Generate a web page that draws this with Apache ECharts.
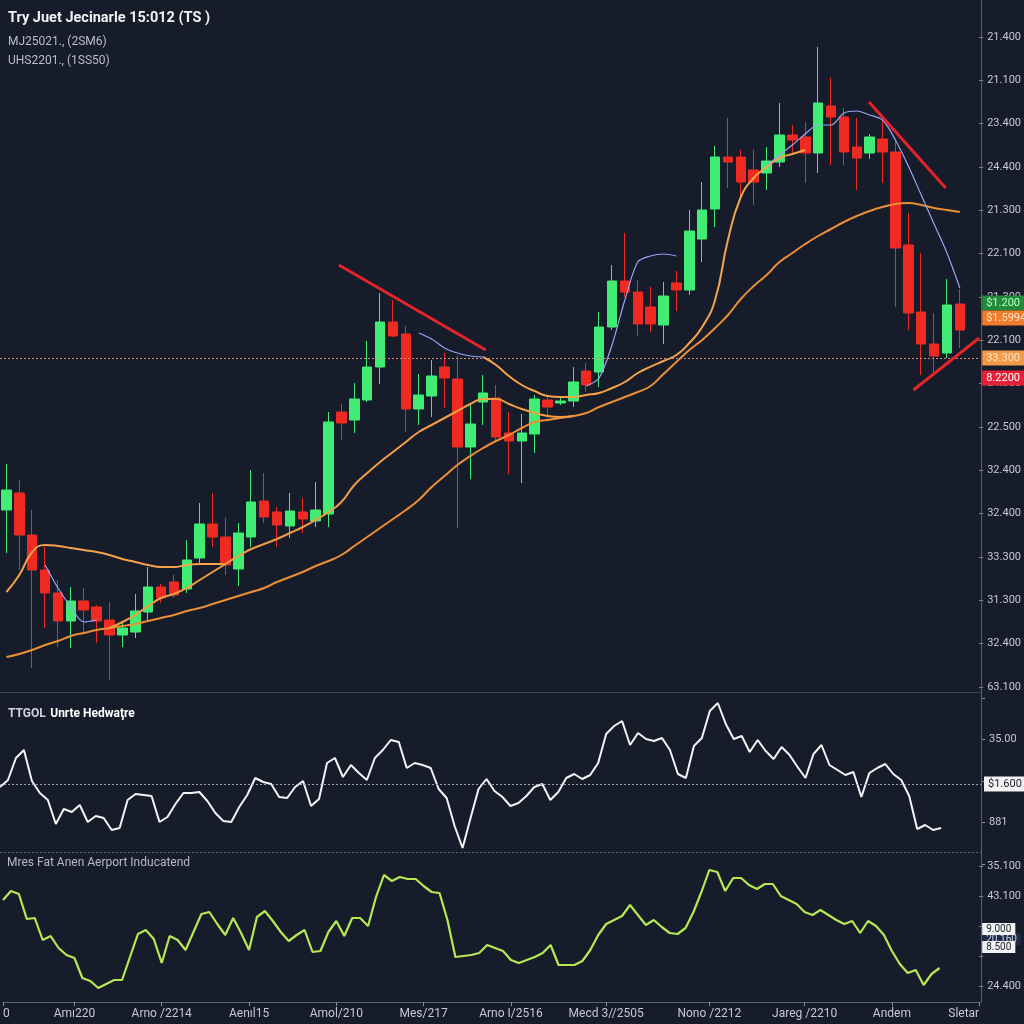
<!DOCTYPE html>
<html><head><meta charset="utf-8">
<script src="https://cdn.jsdelivr.net/npm/echarts@6/dist/echarts.min.js"></script>
<style>html,body{margin:0;padding:0;background:#161c2a;}#c{width:1024px;height:1024px;}</style>
</head><body><div id="c"></div>
<script>
// ---------- DATA ----------
const titleText = 'Try Juet Jecinarle 15:012 (TS )';
const subText = 'MJ25021., (2SM6)\nUHS2201., (1SS50)';
const panel2Title = ['TTGOL', 'Unrte Hedwaţre'];
const panel3Title = 'Mres Fat Anen Aerport Inducatend';

// main price axis tick labels, top to bottom
const mainTicks = ["21.400","21.100","23.400","24.400","21.300","22.100","21.300","22.100","24.300","22.500","32.400","32.400","33.300","31.300","32.400","63.100"];
const panel2Ticks = ['', '881', '', '35.00', ''];          // bottom to top
const panel3Ticks = ['24.400', '', '', '43.100', '35.100']; // bottom to top

// bottom time axis labels
const timeLabelIdx = [0, 9, 20, 31, 42, 53, 64, 76, 89, 101, 112, 123];
const timeLabels = ["0","Amı220","Arno /2214","Aenıl15","Amol/210","Mes/217","Arno I/2516","Mecd 3//2505","Nono /2212","Jareg /2210","Andem","Sletar"];

// candles: [open, close, low, high]
const candles = [
[1531,1591,1402,1669],[1582,1456,1351,1621],[1456,1351,1057,1531],[1351,1282,1177,1420],[1282,1198,1120,1321],
[1198,1258,1117,1300],[1258,1231,1162,1297],[1240,1198,1132,1246],[1201,1156,1021,1255],[1156,1177,1120,1192],
[1165,1228,1147,1279],[1225,1300,1201,1360],[1300,1267,1252,1309],[1315,1276,1267,1336],[1294,1381,1282,1441],
[1387,1489,1372,1552],[1489,1450,1420,1582],[1450,1366,1336,1507],[1354,1462,1303,1492],[1450,1555,1420,1651],
[1558,1510,1492,1642],[1525,1486,1420,1540],[1483,1528,1447,1582],[1525,1504,1462,1567],[1498,1531,1480,1615],
[1519,1795,1480,1825],[1825,1792,1741,1849],[1801,1864,1762,1912],[1861,1960,1855,2038],[1960,2095,1909,2182],
[2095,2053,2050,2161],[2059,1834,1765,2083],[1834,1876,1786,1939],[1873,1933,1810,1981],[1960,1927,1837,2002],
[1924,1720,1477,1993],[1720,1789,1624,1849],[1855,1882,1786,1936],[1867,1750,1741,1906],[1762,1738,1639,1825],
[1738,1762,1612,1819],[1759,1864,1702,1876],[1861,1840,1807,1873],[1852,1858,1846,1867],[1858,1915,1840,1960],
[1948,1906,1885,1972],[1945,2080,1900,2125],[2080,2218,2071,2266],[2218,2185,2170,2362],[2185,2089,2053,2221],
[2140,2089,2065,2200],[2086,2173,2029,2215],[2212,2191,2128,2248],[2191,2368,2176,2431],[2344,2431,2275,2515],
[2434,2590,2380,2623],[2590,2575,2497,2707],[2590,2515,2461,2611],[2551,2515,2446,2611],[2542,2578,2491,2620],
[2575,2656,2560,2752],[2656,2641,2602,2686],[2650,2602,2512,2695],[2602,2752,2542,2920],[2743,2710,2566,2827],
[2710,2605,2566,2737],[2620,2587,2491,2707],[2602,2650,2584,2659],[2644,2605,2512,2701],[2605,2317,2140,2641],
[2326,2122,2071,2422],[2125,2029,1936,2302],[2029,1993,1945,2122],[2002,2146,1987,2224],[2149,2071,2017,2194]
];
const candleDays = candles.map((_, i) => 'D' + (i + 1)).concat(['D76']);

const maSlow = [1090,1099,1111,1126,1138,1153,1162,1171,1177,1183,
1189,1198,1207,1216,1228,1237,1249,1261,1273,1285,
1297,1315,1330,1345,1363,1378,1396,1423,1450,1477,
1504,1531,1561,1600,1633,1666,1693,1717,1738,1756,
1777,1795,1801,1807,1813,1822,1840,1855,1870,1885,
1903,1939,1975,2011,2041,2077,2116,2164,2203,2236,
2275,2302,2329,2353,2374,2395,2413,2428,2440,2449,
2452,2446,2437,2431,2425];

const maTrend = [null,null,null,null,null,null,null,null,
1177,1195,1216,1243,1267,1279,1297,1321,1345,1369,1393,1414,1429,1444,1462,1480,1501,1525,1555,1606,
1642,1675,1705,1735,1765,1786,1807,1828,1849,1864,1864,1849,1834,1822,1813,1810,1813,
null,null,null,null,null,null,null,null,null,null,null,null,null,null,null,
null,null,null,null,null,null,null,null,null,null,null,null,null,null,null];

const maMid = [1285,1336,1405,1426,1423,1417,1411,1405,1396,1384,1375,1366,1360,1360,1366,1369,1369,1369,
null,null,null,null,null,null,null,null,null,null,null,null,null,null,null,null,null,null,null,
1990,1966,1933,1906,1888,1873,1870,1870,1876,1882,1897,1915,1942,1961,1978,1996,2032,2080,2161,2341,2470,2527,2560,2587,2599,2611,
null,null,null,null,null,null,null,null,null,null,null,null];

const maFast = [null,null,null,
1366,1297,1240,1195,1201,
null,null,null,null,null,null,null,null,null,null,null,null,null,null,null,null,null,null,null,null,null,null,null,null,
2062,2044,2017,2002,1993,1990,
null,null,null,null,null,null,null,
1903,1927,2026,2161,2275,2293,2299,2293,
null,null,null,null,null,null,
2563,2596,2626,2659,2686,2686,2722,2728,2716,2701,2641,2563,2476,2389,2302,2197];

// drawn trend lines: [candle position, price]
const trendA = [[25.8,2266],[37.2,2011]];
const trendB = [[66.95,2755],[72.9,2497]];
const trendC = [[70.4,1891],[75.5,2047]];

// price level markers
const levelLine = 1987;
const badges = [
  {v: 2152, text: '$1.200', bg: '#238a3c', fg: '#b8ffc4'},
  {v: 2107, text: '$1.5994', bg: '#ef7d2d', fg: '#ffe3c4'},
  {v: 1987, text: '33.300', bg: '#f2994a', fg: '#fde3c2'},
  {v: 1927, text: '8.2200', bg: '#e8213b', fg: '#ffffff'}
];

// lower indicators
const indWhite = [77,84,106,114,83,71,64,40,55,52, 59,42,48,46,34,36,64,70,69,68,
42,47,60,71,71,72,63,51,43,42, 57,69,86,82,80,67,66,77,83,58,
65,101,106,87,99,91,84,106,114,124, 122,96,101,99,96,75,66,38,16,46,
75,85,73,67,58,61,68,77,80,64, 72,86,90,85,89,101,130,138,143,119,
131,125,123,126,114,90,86,118,126,153, 161,140,125,128,112,124,113,105,117,109,
97,86,110,119,99,94,89,92,67,91, 96,100,90,84,68,35,39,34,36];
const indGreen = [86,95,92,67,68,46,50,38,31,28, 8,5,-2,2,6,6,29,52,56,47,
23,50,46,36,54,72,74,62,51,68, 53,36,69,75,65,54,45,51,56,34,
35,54,65,50,68,68,60,89,111,105, 109,107,107,100,94,93,66,29,30,31,
33,41,38,35,26,23,26,29,33,41, 21,21,21,25,36,51,62,66,70,81,
71,61,66,59,53,52,58,74,94,116, 114,95,108,108,101,97,102,102,90,86,
82,74,71,76,71,66,62,65,53,65, 60,51,35,22,13,16,1,12,18];
const whiteLevel = {v: 80, text: '$1.600'};
const greenBadges = [
  {v: 47, text: '20.160', bg: '#1f2c48', fg: '#cfd6e6'},
  {v: 57, text: '9.000', bg: '#f2f2f2', fg: '#1a1f2b'},
  {v: 39, text: '8.500', bg: '#f2f2f2', fg: '#1a1f2b'}
];
const lowerDays = Array.from({length: 124}, (_, i) => 'T' + i);

// ---------- CHART ----------
const FONT = 'Roboto, "DejaVu Sans", sans-serif';
const LBL = '#c5c9d2';
const chart = echarts.init(document.getElementById('c'), null, {renderer: 'canvas'});

function badgeLine(b) {
  return {
    yAxis: b.v,
    lineStyle: {color: 'rgba(0,0,0,0)', width: 0},
    label: {show: true, position: 'end', distance: 3, formatter: b.text,
      backgroundColor: b.bg, color: b.fg, padding: [2, 4], fontSize: 11, fontFamily: FONT}
  };
}

const trendSeries = [trendA, trendB, trendC].map(d => ({
  type: 'line', xAxisIndex: 1, yAxisIndex: 0, data: d, showSymbol: false, symbol: 'none',
  lineStyle: {color: '#e3242b', width: 3}, z: 6, silent: true
}));

const option = {
  backgroundColor: '#161c2a',
  animation: false,
  textStyle: {fontFamily: FONT},
  title: [
    {left: 3, top: 6, text: titleText, subtext: subText, itemGap: 6,
      textStyle: {color: '#f2f2f2', fontSize: 14.5, fontWeight: 'bold', fontFamily: FONT},
      subtextStyle: {color: '#b9bec8', fontSize: 12, lineHeight: 19, fontFamily: FONT}},
    {left: 3, top: 700, text: '{a|' + panel2Title[0] + '} {b|' + panel2Title[1] + '}',
      textStyle: {rich: {a: {color: '#cfd3da', fontSize: 12, fontFamily: FONT},
                         b: {color: '#ffffff', fontSize: 12, fontWeight: 'bold', fontFamily: FONT}}}},
    {left: 2, top: 852, text: panel3Title,
      textStyle: {color: '#b4b9c3', fontSize: 12, fontWeight: 'normal', fontFamily: FONT}}
  ],
  grid: [
    {left: 0, right: 43, top: 37, height: 650},
    {left: 0, right: 43, top: 698, height: 166},
    {left: 0, right: 43, top: 866, height: 120}
  ],
  xAxis: [
    {type: 'category', gridIndex: 0, data: candleDays, boundaryGap: true, show: false},
    {type: 'value', gridIndex: 0, min: -0.5, max: 75.5, show: false, axisLine: {onZero: false}},
    {type: 'category', gridIndex: 1, data: lowerDays, boundaryGap: false, show: false},
    {type: 'category', gridIndex: 2, data: lowerDays, boundaryGap: false, offset: 16,
      axisLine: {show: true, onZero: false, lineStyle: {color: '#5b6170'}},
      axisTick: {show: true, length: 4, lineStyle: {color: '#8a909c'},
        interval: (i) => timeLabelIdx.indexOf(i) >= 0},
      axisLabel: {color: LBL, fontSize: 12, margin: 6, fontFamily: FONT,
        interval: (i) => timeLabelIdx.indexOf(i) >= 0,
        formatter: (v, i) => { const k = timeLabelIdx.indexOf(i); return k >= 0 ? timeLabels[k] : ''; },
        alignMinLabel: 'left', alignMaxLabel: 'right'},
      splitLine: {show: false}}
  ],
  yAxis: [
    {type: 'value', gridIndex: 0, position: 'right', min: 1000, max: 2950, interval: 130,
      axisLine: {show: false, onZero: false}, splitLine: {show: false},
      axisTick: {show: true, length: 4, lineStyle: {color: '#8a909c'}},
      axisLabel: {color: LBL, fontSize: 11, margin: 8, fontFamily: FONT,
        formatter: (v) => mainTicks[15 - Math.round((v - 1000) / 130)] || ''}},
    {type: 'value', gridIndex: 1, position: 'right', min: 0, max: 166, interval: 41.5,
      axisLine: {show: false, onZero: false}, splitLine: {show: false},
      axisTick: {show: true, length: 4, lineStyle: {color: '#8a909c'}},
      axisLabel: {color: LBL, fontSize: 11, margin: 8, fontFamily: FONT,
        formatter: (v) => panel2Ticks[Math.round(v / 41.5)] || ''}},
    {type: 'value', gridIndex: 2, position: 'right', min: 0, max: 120, interval: 30,
      axisLine: {show: false, onZero: false}, splitLine: {show: false},
      axisTick: {show: true, length: 4, lineStyle: {color: '#8a909c'}},
      axisLabel: {color: LBL, fontSize: 11, margin: 8, fontFamily: FONT,
        formatter: (v) => panel3Ticks[Math.round(v / 30)] || ''}}
  ],
  graphic: [
    {type: 'line', shape: {x1: 981.5, y1: 0, x2: 981.5, y2: 1003}, style: {stroke: '#5b6170', lineWidth: 1}, z: 1},
    {type: 'line', shape: {x1: 0, y1: 692.5, x2: 981, y2: 692.5}, style: {stroke: '#3f4655', lineWidth: 1}, z: 1},
    {type: 'line', shape: {x1: 0, y1: 852.5, x2: 981, y2: 852.5}, style: {stroke: '#5d6472', lineWidth: 1, lineDash: [2, 2]}, z: 1}
  ],
  series: [
    {type: 'candlestick', xAxisIndex: 0, yAxisIndex: 0, data: candles, barWidth: 10,
      itemStyle: {color: '#41ec74', color0: '#ee2a22', borderColor: '#41ec74', borderColor0: '#ee2a22', borderWidth: 1},
      markLine: {symbol: ['none', 'none'], silent: true, animation: false,
        data: [
          {yAxis: levelLine, lineStyle: {color: '#d98a7a', width: 1, type: [2, 2]}, label: {show: false}},
          ...badges.map(badgeLine)
        ]}},
    {type: 'line', xAxisIndex: 0, yAxisIndex: 0, data: maSlow, smooth: true, showSymbol: false, symbol: 'none',
      lineStyle: {color: '#ec8e35', width: 2}, z: 4},
    {type: 'line', xAxisIndex: 0, yAxisIndex: 0, data: maTrend, smooth: true, showSymbol: false, symbol: 'none',
      lineStyle: {color: '#f39c45', width: 2}, z: 4},
    {type: 'line', xAxisIndex: 0, yAxisIndex: 0, data: maMid, smooth: true, showSymbol: false, symbol: 'none',
      lineStyle: {color: '#f5a24a', width: 2}, z: 4},
    {type: 'line', xAxisIndex: 0, yAxisIndex: 0, data: maFast, smooth: 0.3, showSymbol: false, symbol: 'none',
      lineStyle: {color: '#9aa4f5', width: 1.2}, z: 4},
    ...trendSeries,
    {type: 'line', xAxisIndex: 2, yAxisIndex: 1, data: indWhite, showSymbol: false, symbol: 'none', clip: false,
      lineStyle: {color: '#f4f4f4', width: 2},
      markLine: {symbol: ['none', 'none'], silent: true, animation: false,
        data: [{yAxis: whiteLevel.v, lineStyle: {color: '#9aa0aa', width: 1, type: [2, 2]},
          label: {show: true, position: 'end', distance: 3, formatter: whiteLevel.text,
            backgroundColor: '#f2f2f2', color: '#1a1f2b', padding: [2, 4], fontSize: 11, fontFamily: FONT}}]}},
    {type: 'line', xAxisIndex: 3, yAxisIndex: 2, data: indGreen, showSymbol: false, symbol: 'none', clip: false,
      lineStyle: {color: '#b5e853', width: 2.2},
      markLine: {symbol: ['none', 'none'], silent: true, animation: false,
        data: greenBadges.map(b => ({yAxis: b.v, lineStyle: {color: 'rgba(0,0,0,0)', width: 0},
          label: {show: true, position: 'end', distance: 3, formatter: b.text,
            backgroundColor: b.bg, color: b.fg, padding: [1, 4], fontSize: 10, fontFamily: FONT}}))}}
  ]
};
chart.setOption(option);
</script>
</body></html>
